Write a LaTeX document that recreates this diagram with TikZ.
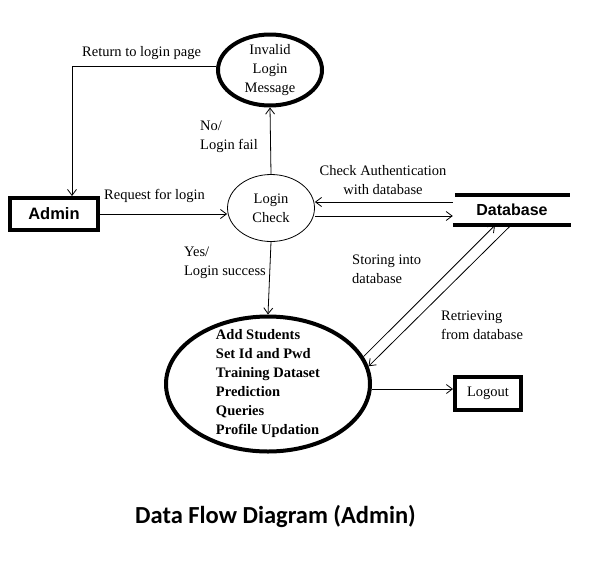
\documentclass[tikz,border=0pt]{standalone}
\usepackage{fontspec}
\setmainfont{Liberation Serif}
\newfontfamily\arialfont{Liberation Sans}
\newfontfamily\calibrifont{Carlito}
\usetikzlibrary{shapes.geometric,arrows.meta,positioning}

\tikzset{
  flow/.style={draw, line width=0.8pt, -{Straight Barb[length=6pt,width=9pt]}},
  thinproc/.style={ellipse, draw, line width=0.8pt, inner sep=0pt},
  thickproc/.style={ellipse, draw, line width=4pt, inner sep=0pt},
  entity/.style={rectangle, draw, line width=4pt, inner sep=0pt},
  lbl/.style={font=\fontsize{14.5}{19}\selectfont, inner sep=0pt, align=left}
}

\begin{document}
\begin{tikzpicture}[x=1pt, y=-1pt]
\useasboundingbox (0,0) rectangle (599,560);
    % processes
    \node [thickproc, minimum width=104pt, minimum height=71pt] (inv) at (270,70) {};
    \node [lbl, align=center] (invtxt) at (inv.center) {Invalid\\Login\\Message};
    \node [thinproc, minimum width=87pt, minimum height=67pt] (lc) at (271,208) {};
    \node [lbl, align=center] (lctxt) at (lc.center) {Login\\Check};
    \node [thickproc, minimum width=204pt, minimum height=135pt] (adm) at (268,384) {};
    \node [lbl, font=\fontsize{14.5}{19}\bfseries\selectfont] (admtxt) at (adm.center)
        {Add Students\\Set Id and Pwd\\Training Dataset\\Prediction\\Queries\\Profile Updation};
    % entities and store
    \node [entity, minimum width=88pt, minimum height=32pt, font=\arialfont\bfseries\fontsize{16.5}{19}\selectfont] (admin) at (54,214) {Admin};
    \node [entity, minimum width=66pt, minimum height=33pt, font=\fontsize{14.5}{19}\selectfont] (logout) at (488,393) {Logout};
    \node [minimum width=118pt, minimum height=30pt, inner sep=0pt, font=\arialfont\bfseries\fontsize{16}{19}\selectfont] (db) at (512,210) {Database};
    \draw [line width=4pt] ([xshift=2pt]db.north west) -- ([xshift=-1pt]db.north east);
    \draw [line width=4pt] (db.south west) -- (db.south east);
    % flows
    \draw [flow] (inv.west |- 0,66) -| ([xshift=18pt]admin.north);
    \draw [flow] (admin.east) -- (admin.east -| lc.west);
    \draw [flow] (lc.north) -- (inv.south);
    \draw [flow] (lc.south) -- (adm.north);
    \draw [flow] ([yshift=8pt]db.west) -- ([yshift=8pt]db.west -| lc.east);
    \draw [flow] ([yshift=-6pt]db.west -| lc.east) -- ([yshift=-6pt]db.west);
    \draw [flow] (adm.16) -- ([xshift=-17pt]db.south);
    \draw [flow] ([xshift=-1pt]db.south) -- (adm.10);
    \draw [flow] ([yshift=4pt]logout.west -| adm.east) -- ([yshift=4pt]logout.west);
    % labels
    \node [lbl, anchor=west] (l1) at (82,53) {Return to login page};
    \node [lbl, anchor=west] (l2) at (104,196) {Request for login};
    \node [lbl, anchor=west] (l3) at (200,137) {No/\\Login fail};
    \node [lbl, anchor=east] (l4) at (266,263) {Yes/\phantom{Login }\\Login success};
    \node [lbl, align=center] (l5) at (383,180) {Check Authentication\\with database};
    \node [lbl, anchor=west] (l6) at (352,269) {Storing into\\database};
    \node [lbl, anchor=west] (l7) at (441,325) {Retrieving\\from database};
    \node [font=\calibrifont\bfseries\fontsize{24.5}{28}\selectfont, inner sep=0pt] (title) at (275.5,516) {Data Flow Diagram (Admin)};
\end{tikzpicture}
\end{document}
